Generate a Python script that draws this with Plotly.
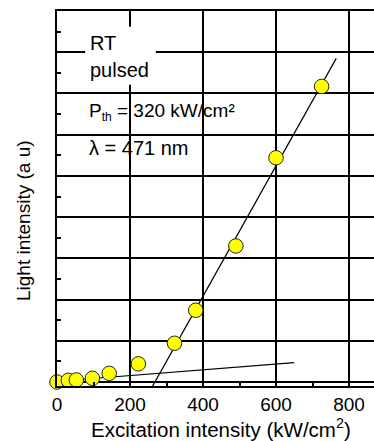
import plotly.graph_objects as go

# Data
exc = [0, 31, 53, 97, 143, 223, 322, 380, 490, 600, 725]
light = [0.0, 0.04, 0.05, 0.09, 0.21, 0.44, 0.94, 1.74, 3.30, 5.44, 7.17]

fit_high_x = [262, 765]
fit_high_y = [-0.1, 7.85]
fit_low_x = [20, 650]
fit_low_y = [0.03, 0.47]

x_ticks = [0, 200, 400, 600, 800]
x_labels = ["0", "200", "400", "600", "800"]

FONT = "Liberation Sans, Arial, sans-serif"

fig = go.Figure()
fig.add_trace(go.Scatter(x=fit_high_x, y=fit_high_y, mode="lines",
                         line=dict(color="black", width=1.2), showlegend=False))
fig.add_trace(go.Scatter(x=fit_low_x, y=fit_low_y, mode="lines",
                         line=dict(color="black", width=1.2), showlegend=False))
fig.add_trace(go.Scatter(x=exc, y=light, mode="markers",
                         marker=dict(size=14.5, color="#FFFF00",
                                     line=dict(color="#222222", width=1)),
                         showlegend=False, cliponaxis=False))

fig.update_layout(
    width=374, height=441,
    margin=dict(l=57, r=0, t=11, b=55),
    paper_bgcolor="white", plot_bgcolor="white",
    font=dict(family=FONT, color="black"),
    xaxis=dict(range=[0, 868.5], tickvals=x_ticks, ticktext=x_labels,
               showgrid=True, gridcolor="black", gridwidth=2,
               showline=True, linecolor="black", linewidth=2, mirror=True,
               ticks="", tickfont=dict(size=19, family=FONT),
               zeroline=False,
               minor=dict(tickvals=[100, 300, 500, 700], ticks="inside",
                          ticklen=4, tickwidth=2, tickcolor="black",
                          showgrid=False)),
    yaxis=dict(range=[-0.097, 9.0], tickvals=list(range(0, 10)),
               showticklabels=False,
               showgrid=True, gridcolor="black", gridwidth=2,
               showline=True, linecolor="black", linewidth=2,
               ticks="", zeroline=False,
               minor=dict(tickvals=[i + 0.5 for i in range(9)], ticks="inside",
                          ticklen=4, tickwidth=2, tickcolor="black",
                          showgrid=False)),
)

# white box behind "RT pulsed"
fig.add_shape(type="rect", xref="x", yref="y", x0=77, x1=271, y0=7.21, y1=8.62,
              fillcolor="white", line=dict(width=0), layer="above")

ann = dict(xref="x", yref="y", xanchor="left", yanchor="middle", showarrow=False,
           font=dict(size=20, family=FONT, color="black"))
fig.add_annotation(x=86, y=8.22, text="RT", **ann)
fig.add_annotation(x=85, y=7.56, text="pulsed", **ann)
ann2 = dict(ann)
ann2["font"] = dict(size=19, family=FONT, color="black")
fig.add_annotation(x=83, y=6.54,
                   text="P<sub><span style='font-size:12px'>th</span></sub> = 320 kW/cm²", **ann2)
fig.add_annotation(x=82, y=5.68, text="λ = 471 nm", **ann)

# axis titles
fig.add_annotation(xref="paper", yref="paper", x=(221 - 57) / 317, y=(386 - 428) / 375,
                   text="Excitation intensity (kW/cm<sup>2</sup>)", showarrow=False,
                   xanchor="center", yanchor="middle",
                   font=dict(size=20.5, family=FONT, color="black"))
fig.add_annotation(xref="paper", yref="paper", x=(23 - 57) / 317, y=(386 - 221) / 375,
                   text="Light intensity (a u)", showarrow=False, textangle=-90,
                   xanchor="center", yanchor="middle",
                   font=dict(size=19, family=FONT, color="black"))

fig.write_html("out.html")
